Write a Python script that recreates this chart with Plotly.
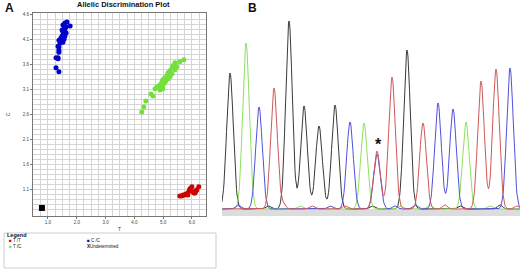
import numpy as np
import plotly.graph_objects as go

# ---------------- Panel A data (allelic discrimination) ----------------
tt_x = [5.58, 5.65, 5.69, 5.76, 5.79, 5.83, 5.86, 5.90, 5.93, 5.97, 6.00, 6.04, 6.07, 6.11, 6.14, 6.17, 6.24, 5.86]
tt_y = [0.98, 0.98, 1.00, 1.00, 1.02, 1.02, 1.04, 1.08, 1.12, 1.10, 1.16, 1.06, 1.04, 1.04, 1.08, 1.10, 1.16, 1.00]

cc_x = [1.59, 1.66, 1.52, 1.77, 1.63, 1.49, 1.56, 1.59, 1.52, 1.63, 1.56, 1.49, 1.59, 1.52, 1.45,
        1.56, 1.38, 1.49, 1.52, 1.42, 1.35, 1.38, 1.38, 1.38, 1.28, 1.35, 1.35, 1.28, 1.38]
cc_y = [4.42, 4.44, 4.38, 4.36, 4.34, 4.28, 4.30, 4.26, 4.24, 4.22, 4.20, 4.16, 4.16, 4.14, 4.12,
        4.10, 4.08, 4.06, 4.04, 4.02, 3.96, 3.94, 3.88, 3.84, 3.73, 3.73, 3.71, 3.53, 3.45]

tc_x = [5.72, 5.58, 5.41, 5.34, 5.48, 5.31, 5.24, 5.41, 5.17, 5.31, 5.13, 5.24, 5.06, 5.17, 4.99,
        5.10, 4.96, 5.06, 4.89, 4.99, 4.79, 4.89, 4.72, 4.89, 4.99, 4.58, 4.65, 4.40, 4.33, 4.26]
tc_y = [3.69, 3.65, 3.63, 3.57, 3.55, 3.53, 3.47, 3.49, 3.43, 3.41, 3.37, 3.35, 3.33, 3.31, 3.29,
        3.27, 3.25, 3.23, 3.19, 3.17, 3.15, 3.13, 3.11, 3.09, 3.11, 3.01, 2.97, 2.87, 2.75, 2.65]

und_x = [0.79]
und_y = [0.74]

x_ticks = [1.0, 2.0, 3.0, 4.0, 5.0, 6.0]
y_ticks = [1.1, 1.6, 2.1, 2.6, 3.1, 3.6, 4.1, 4.6]

# ---------------- Panel B data (chromatogram peaks: scan position, height) ----------------
black_pos = [230, 289, 304, 319, 335, 407, 268, 372, 460, 500]
black_h   = [136, 188, 103, 83, 104, 159, 3, 3, 3, 4]
green_pos = [246, 364, 466, 300, 400, 490, 430]
green_h   = [166, 86, 87, 3, 3, 3, 4]
blue_pos  = [259, 350, 377, 438, 453, 510, 238, 330, 415, 395]
blue_h    = [102, 87, 55, 106, 100, 141, 4, 3, 4, 3]
red_pos   = [274, 377, 392, 423, 481, 496, 283, 345, 445, 517, 312]
red_h     = [121, 58, 132, 86, 128, 140, 5, 3, 4, 3, 3]

scan = np.arange(222, 520.01, 0.5)


def trace_curve(pos, h, sigma=3.3):
    y = np.zeros_like(scan, dtype=float)
    for p, a in zip(pos, h):
        s = sigma if a > 10 else 2.5
        y += a * np.exp(-((scan - p) ** 2) / (2 * s * s))
    return y


fig = go.Figure()

# Panel A scatter
fig.add_trace(go.Scatter(x=tt_x, y=tt_y, mode="markers", name="T /T",
                         marker=dict(color="#cc0000", size=5), xaxis="x", yaxis="y"))
fig.add_trace(go.Scatter(x=cc_x, y=cc_y, mode="markers", name="C /C",
                         marker=dict(color="#0000cc", size=5), xaxis="x", yaxis="y"))
fig.add_trace(go.Scatter(x=tc_x, y=tc_y, mode="markers", name="T /C",
                         marker=dict(color="#74e03c", size=5), xaxis="x", yaxis="y"))
fig.add_trace(go.Scatter(x=und_x, y=und_y, mode="markers", name="Undetermined",
                         marker=dict(color="#000000", size=6, symbol="square"), xaxis="x", yaxis="y"))

# Panel B chromatogram
for pos, h, col in [(black_pos, black_h, "#3a3a3a"), (green_pos, green_h, "#8ee060"),
                    (blue_pos, blue_h, "#5050dd"), (red_pos, red_h, "#d05858")]:
    fig.add_trace(go.Scatter(x=scan, y=trace_curve(pos, h), mode="lines",
                             line=dict(color=col, width=1), xaxis="x2", yaxis="y2",
                             hoverinfo="skip"))

W, H = 520, 271
grid_col = "#d4d4d4"
fig.update_layout(
    width=W, height=H, margin=dict(l=0, r=0, t=0, b=0),
    paper_bgcolor="white", plot_bgcolor="white", showlegend=False,
    font=dict(family="Liberation Sans, Arial", color="#222"),
    xaxis=dict(domain=[33 / W, 206 / W], range=[0.48, 6.49], tickvals=x_ticks,
               ticktext=[f"{v:.1f}" for v in x_ticks], tickfont=dict(size=4.5, color="#444"),
               showgrid=True, gridcolor=grid_col, gridwidth=1,
               minor=dict(dtick=0.25, tick0=0.5, showgrid=True, gridcolor=grid_col, gridwidth=1),
               showline=True, linecolor="#777", linewidth=1, mirror=True,
               ticks="outside", ticklen=2, tickcolor="#777", zeroline=False,
               title=dict(text="T", font=dict(size=5, color="#333"), standoff=3),
               automargin=False, anchor="y"),
    yaxis=dict(domain=[(H - 216) / H, (H - 13) / H], range=[0.58, 4.62], tickvals=y_ticks,
               ticktext=[f"{v:.1f}" for v in y_ticks], tickfont=dict(size=4.5, color="#444"),
               showgrid=True, gridcolor=grid_col, gridwidth=1,
               minor=dict(dtick=0.1, tick0=0.6, showgrid=True, gridcolor=grid_col, gridwidth=1),
               showline=True, linecolor="#777", linewidth=1, mirror=True,
               ticks="outside", ticklen=2, tickcolor="#777", zeroline=False,
               title=dict(text="C", font=dict(size=5, color="#333"), standoff=12),
               automargin=False, anchor="x"),
    xaxis2=dict(domain=[222 / W, 1.0], range=[222, 520], visible=False, anchor="y2",
                automargin=False),
    yaxis2=dict(domain=[(H - 216) / H, 1.0], range=[-7, 209], visible=False, anchor="x2",
                automargin=False),
)

# gray baseline band in chromatogram
fig.add_shape(type="rect", xref="x2", yref="y2", x0=222, x1=520, y0=-7, y1=0,
              fillcolor="#dcdcdc", line=dict(width=0), layer="below")

# legend box of panel A
fig.add_shape(type="rect", xref="paper", yref="paper",
              x0=4 / W, x1=216 / W, y0=(H - 268) / H, y1=(H - 233) / H,
              fillcolor="white", line=dict(color="#cccccc", width=1))

ann = [
    dict(text="<b>A</b>", x=3 / W, y=1 - 8 / H, size=12),
    dict(text="<b>B</b>", x=246 / W, y=1 - 8 / H, size=12),
    dict(text="<b>Allelic Discrimination Plot</b>", x=75 / W, y=1 - 5 / H, size=7.5),
    dict(text="<b>Legend</b>", x=5 / W, y=1 - 235 / H, size=5.5),
    dict(text="<span style='color:#cc0000'>■</span> T /T", x=7 / W, y=1 - 240.5 / H, size=4.5),
    dict(text="<span style='color:#74e03c'>■</span> T /C", x=7 / W, y=1 - 246.5 / H, size=4.5),
    dict(text="<span style='color:#0000cc'>■</span> C /C", x=85 / W, y=1 - 240.5 / H, size=4.5),
    dict(text="<b>X</b>Undetermined", x=85 / W, y=1 - 246.5 / H, size=4.5),
]
for a in ann:
    fig.add_annotation(text=a["text"], x=a["x"], y=a["y"], xref="paper", yref="paper",
                       xanchor="left", yanchor="middle", showarrow=False,
                       font=dict(size=a["size"], color="#111"))

fig.add_annotation(text="<b>*</b>", x=378, y=65, xref="x2", yref="y2", showarrow=False,
                   font=dict(size=16, color="#111"), yanchor="middle")

fig.write_html("out.html", config={"displayModeBar": False},
               post_script="document.body.style.margin='0px';")
